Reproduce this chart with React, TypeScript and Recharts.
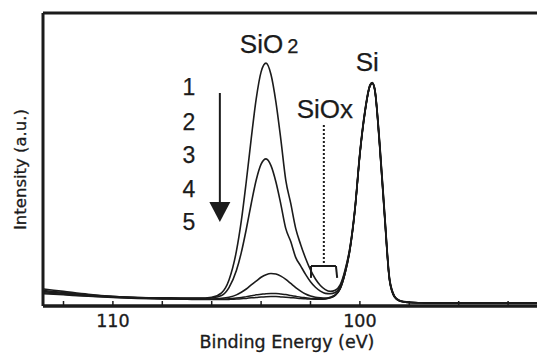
import React from "react";
import { LineChart, Line, XAxis, YAxis, ReferenceLine, ReferenceDot } from "recharts";

// binding energy (eV)
const energy = [
  112.8, 112, 111, 110, 109, 108, 107, 106.5, 106, 105.6, 105.3, 105, 104.8,
  104.6, 104.4, 104.2, 104, 103.8, 103.6, 103.4, 103.2, 103, 102.8, 102.6,
  102.4, 102.2, 102, 101.8, 101.6, 101.4, 101.2, 101, 100.8, 100.6, 100.4,
  100.2, 100, 99.8, 99.6, 99.5, 99.4, 99.2, 99, 98.8, 98.6, 98.4, 98.2, 98,
  97.5, 97, 96, 95, 94, 92.8,
];

// intensity (a.u., 0-100 of the frame) for spectra 1..5
const scan1 = [
  5.8, 5.0, 4.0, 3.3, 2.9, 2.8, 2.7, 2.7, 3.0, 4.5, 8.9, 18.7, 29.1, 42.5,
  57.1, 70.6, 79.9, 82.9, 79.0, 69.6, 56.8, 42.9, 35.0, 26.5, 21.0, 16.3, 12.3,
  9.2, 7.0, 5.6, 5.0, 5.4, 7.2, 12.3, 20.2, 33.5, 52.5, 66.5, 75.3, 76.3, 74.2,
  56, 32, 9.5, 3.4, 1.9, 1.5, 1.3, 1.1, 1.0, 1.0, 1.0, 1.1, 1.0,
];
const scan2 = [
  5.3, 4.6, 3.8, 3.2, 2.85, 2.7, 2.6, 2.6, 2.8, 3.6, 6.3, 12.1, 18.3, 26.2,
  34.9, 42.9, 48.4, 50.2, 47.9, 42.3, 34.7, 26.4, 22.0, 16.6, 13.7, 10.8, 8.3,
  6.4, 5.1, 4.3, 4.2, 4.6, 6.7, 11.9, 19.9, 33.2, 52.2, 66.2, 75.1, 76.2, 74.1,
  55.5, 31.5, 9.2, 3.3, 1.85, 1.45, 1.25, 1.1, 1.0, 1.0, 1.0, 1.05, 1.0,
];
const scan3 = [
  4.9, 4.3, 3.6, 3.1, 2.8, 2.6, 2.5, 2.45, 2.4, 2.6, 3.0, 3.8, 4.7, 5.8, 7.2,
  8.5, 9.8, 10.7, 11.1, 10.9, 10.2, 9.1, 7.7, 6.3, 5.1, 4.1, 3.4, 3.0, 2.8,
  2.7, 3.0, 3.8, 6.0, 11.3, 19.5, 33, 52, 66, 75, 76.1, 74, 55, 31, 9, 3.2,
  1.8, 1.4, 1.2, 1.1, 1.0, 1.0, 1.0, 1.0, 1.0,
];
const scan4 = [
  4.5, 4.0, 3.4, 3.0, 2.7, 2.5, 2.4, 2.3, 2.3, 2.3, 2.5, 2.7, 2.9, 3.2, 3.5,
  3.8, 4.0, 4.2, 4.3, 4.3, 4.1, 3.9, 3.6, 3.3, 3.0, 2.8, 2.6, 2.5, 2.45, 2.5,
  2.9, 3.7, 5.9, 11.2, 19.4, 32.8, 51.8, 65.8, 74.9, 76.0, 73.8, 54.6, 30.6,
  8.8, 3.1, 1.75, 1.4, 1.2, 1.1, 1.0, 1.0, 1.0, 1.0, 1.0,
];
const scan5 = [
  4.2, 3.8, 3.3, 2.9, 2.6, 2.4, 2.3, 2.2, 2.2, 2.2, 2.25, 2.35, 2.5, 2.6, 2.8,
  2.9, 3.05, 3.15, 3.2, 3.2, 3.1, 3.0, 2.85, 2.7, 2.55, 2.45, 2.35, 2.3, 2.3,
  2.4, 2.8, 3.6, 5.8, 11.1, 19.3, 32.6, 51.6, 65.6, 74.8, 75.9, 73.6, 54.2,
  30.2, 8.6, 3.0, 1.7, 1.35, 1.2, 1.1, 1.0, 1.0, 1.0, 1.0, 1.0,
];

const xTicks = [94, 96, 98, 100, 102, 104, 106, 108, 110, 112];
const xTickLabels = [100, 110];
const yTicks = [7.2, 14.65, 22.1, 29.55, 37.0, 44.45, 51.9, 59.35, 66.8, 74.25, 81.7, 89.15, 96.6];
const scanNames = ["1", "2", "3", "4", "5"];

const ink = "#1b1b1b";
const sans = "'Liberation Sans', Arial, sans-serif";
const wide = "'DejaVu Sans', sans-serif";

const data = energy.map((e, i) => ({
  e,
  s1: scan1[i],
  s2: scan2[i],
  s3: scan3[i],
  s4: scan4[i],
  s5: scan5[i],
}));

const XTitle = (props: any) => {
  const { x, y, width } = props.viewBox;
  return (
    <text
      x={x + width / 2 - 3}
      y={y + 42}
      textAnchor="middle"
      fill={ink}
      stroke={ink}
      strokeWidth={0.35}
      fontSize={17.5}
      fontFamily={wide}
    >
      Binding Energy (eV)
    </text>
  );
};

const YTitle = (props: any) => {
  const { x, y, height } = props.viewBox;
  const cx = x + 20;
  const cy = y + height / 2 + 10;
  return (
    <text
      x={cx}
      y={cy}
      transform={`rotate(-90, ${cx}, ${cy})`}
      textAnchor="middle"
      dominantBaseline="central"
      fill={ink}
      stroke={ink}
      strokeWidth={0.3}
      fontSize={16.5}
      fontFamily={wide}
    >
      Intensity (a.u.)
    </text>
  );
};

const note = (label: React.ReactNode, size: number, anchor = "middle") => (p: any) => (
  <text
    x={p.cx}
    y={p.cy}
    textAnchor={anchor}
    fill={ink}
    stroke={ink}
    strokeWidth={0.25}
    fontSize={size}
    fontFamily={sans}
  >
    {label}
  </text>
);

const arrowHead = (p: any) => (
  <polygon
    points={`${p.cx - 10.5},${p.cy - 10} ${p.cx + 10.5},${p.cy - 10} ${p.cx},${p.cy + 10}`}
    fill={ink}
  />
);

const App = () => {
  const seg = { stroke: ink, strokeWidth: 2 };
  return (
    <div style={{ position: "fixed", left: 0, top: 0, width: 537, height: 353, background: "#fff" }}>
      <LineChart width={537} height={353} data={data} margin={{ top: 12, right: 0, bottom: 0, left: 0 }}>
        <XAxis
          dataKey="e"
          type="number"
          domain={[92.83, 112.83]}
          reversed
          allowDataOverflow
          ticks={xTicks}
          interval={0}
          tickFormatter={(v: number) => (xTickLabels.includes(v) ? String(v) : "")}
          height={47}
          axisLine={{ stroke: ink, strokeWidth: 3.5 }}
          tickLine={{ stroke: ink, strokeWidth: 1.5 }}
          tickSize={-5}
          tickMargin={14}
          tick={{ fill: ink, stroke: ink, strokeWidth: 0.35, fontSize: 17.5, fontFamily: wide }}
          label={<XTitle />}
        />
        <XAxis
          xAxisId="top"
          orientation="top"
          dataKey="e"
          type="number"
          domain={[92.83, 112.83]}
          reversed
          allowDataOverflow
          ticks={xTicks}
          interval={0}
          height={1}
          tick={false}
          axisLine={{ stroke: ink, strokeWidth: 3 }}
          tickLine={{ stroke: ink, strokeWidth: 1.5 }}
          tickSize={-5}
        />
        <YAxis
          type="number"
          domain={[0, 100]}
          ticks={yTicks}
          interval={0}
          width={43}
          tick={false}
          axisLine={{ stroke: ink, strokeWidth: 3 }}
          tickLine={{ stroke: ink, strokeWidth: 1.5 }}
          tickSize={-8}
          label={<YTitle />}
        />

        <Line dataKey="s5" type="monotone" stroke={ink} strokeWidth={1.5} dot={false} isAnimationActive={false} />
        <Line dataKey="s4" type="monotone" stroke={ink} strokeWidth={1.5} dot={false} isAnimationActive={false} />
        <Line dataKey="s3" type="monotone" stroke={ink} strokeWidth={1.6} dot={false} isAnimationActive={false} />
        <Line dataKey="s2" type="monotone" stroke={ink} strokeWidth={1.6} dot={false} isAnimationActive={false} />
        <Line dataKey="s1" type="monotone" stroke={ink} strokeWidth={1.6} dot={false} isAnimationActive={false} />

        {/* arrow for the sequence 1 -> 5 */}
        <ReferenceLine segment={[{ x: 105.67, y: 72.7 }, { x: 105.67, y: 34.5 }]} {...seg} />
        <ReferenceDot x={105.67} y={32.1} shape={arrowHead} />

        {/* SiOx marker: dotted stem and bracket */}
        <ReferenceLine
          segment={[{ x: 101.46, y: 61.8 }, { x: 101.46, y: 14.6 }]}
          stroke={ink}
          strokeWidth={2}
          strokeDasharray="2 2"
        />
        <ReferenceLine segment={[{ x: 101.98, y: 13.65 }, { x: 100.97, y: 13.65 }]} {...seg} />
        <ReferenceLine segment={[{ x: 101.98, y: 13.65 }, { x: 101.98, y: 9.6 }]} {...seg} />
        <ReferenceLine segment={[{ x: 100.97, y: 13.65 }, { x: 100.92, y: 9.6 }]} {...seg} />

        <ReferenceDot
          x={104.86}
          y={86.3}
          shape={note(
            <>
              <tspan>SiO</tspan>
              <tspan dx={4} fontSize={20}>2</tspan>
            </>,
            26,
            "start"
          )}
        />
        <ReferenceDot x={99.7} y={80.2} shape={note("Si", 26)} />
        <ReferenceDot x={101.42} y={64.2} shape={note("SiOx", 26)} />
        <ReferenceDot x={106.92} y={72.0} shape={note(scanNames[0], 23)} />
        <ReferenceDot x={106.92} y={60.1} shape={note(scanNames[1], 23)} />
        <ReferenceDot x={106.92} y={48.8} shape={note(scanNames[2], 23)} />
        <ReferenceDot x={106.92} y={37.2} shape={note(scanNames[3], 23)} />
        <ReferenceDot x={106.92} y={25.9} shape={note(scanNames[4], 23)} />
      </LineChart>
    </div>
  );
};

export default App;
